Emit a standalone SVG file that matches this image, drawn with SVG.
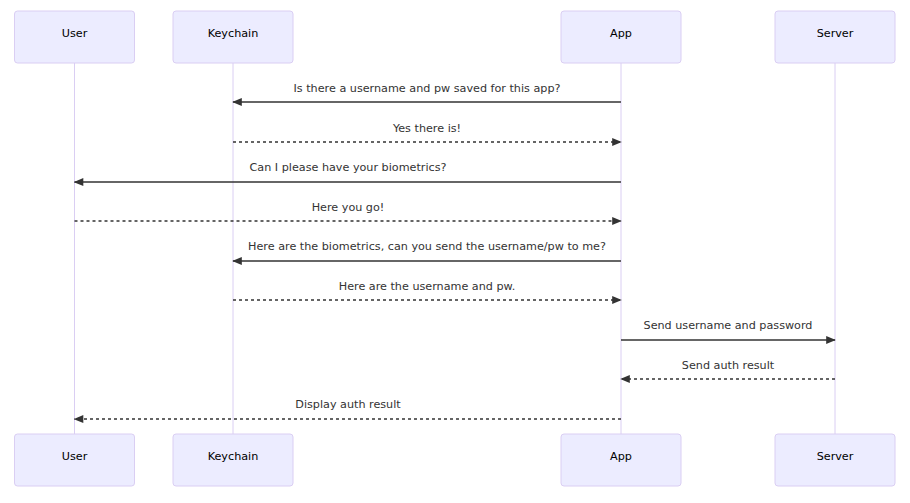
<svg xmlns="http://www.w3.org/2000/svg" width="910" height="503" viewBox="0 0 910 503">
<style>
.actor{fill:#ECECFF;stroke:#DACEF3;stroke-width:1}
.atext{font-family:"DejaVu Sans",sans-serif;font-size:11.2px;fill:#000;text-anchor:middle;dominant-baseline:central}
.life{stroke:#DACEF3;stroke-width:1}
.msg{stroke:#333;stroke-width:1.5;fill:none}
.dash{stroke-dasharray:3,3}
.mtext{font-family:"DejaVu Sans",sans-serif;font-size:11.2px;fill:#333;text-anchor:middle}
</style>
<defs>
<marker id="ah" viewBox="0 0 12 10" refX="11" refY="5" markerUnits="userSpaceOnUse" markerWidth="10" markerHeight="8" orient="auto">
<path d="M0,0 L12,5 L0,10 z" fill="#333"/>
</marker>
</defs>
<rect width="910" height="503" fill="#fff"/>
<g id="lifelines">
<line class="life" x1="74.5" y1="63" x2="74.5" y2="434"/>
<line class="life" x1="233" y1="63" x2="233" y2="434"/>
<line class="life" x1="621" y1="63" x2="621" y2="434"/>
<line class="life" x1="835" y1="63" x2="835" y2="434"/>
</g>
<g id="actor-user"><rect class="actor" x="14.5" y="11" width="120" height="52" rx="3"/><text class="atext" x="74.5" y="33.5">User</text></g>
<g id="actor-keychain"><rect class="actor" x="173" y="11" width="120" height="52" rx="3"/><text class="atext" x="233" y="33.5">Keychain</text></g>
<g id="actor-app"><rect class="actor" x="561" y="11" width="120" height="52" rx="3"/><text class="atext" x="621" y="33.5">App</text></g>
<g id="actor-server"><rect class="actor" x="775" y="11" width="120" height="52" rx="3"/><text class="atext" x="835" y="33.5">Server</text></g>
<g id="actor-user-bottom"><rect class="actor" x="14.5" y="434" width="120" height="52" rx="3"/><text class="atext" x="74.5" y="456.5">User</text></g>
<g id="actor-keychain-bottom"><rect class="actor" x="173" y="434" width="120" height="52" rx="3"/><text class="atext" x="233" y="456.5">Keychain</text></g>
<g id="actor-app-bottom"><rect class="actor" x="561" y="434" width="120" height="52" rx="3"/><text class="atext" x="621" y="456.5">App</text></g>
<g id="actor-server-bottom"><rect class="actor" x="775" y="434" width="120" height="52" rx="3"/><text class="atext" x="835" y="456.5">Server</text></g>
<g id="connectors">
<line class="msg" x1="621" y1="102" x2="233" y2="102" marker-end="url(#ah)"/>
<text class="mtext" x="427" y="92">Is there a username and pw saved for this app?</text>
<line class="msg dash" x1="233" y1="142" x2="621" y2="142" marker-end="url(#ah)"/>
<text class="mtext" x="427" y="132">Yes there is!</text>
<line class="msg" x1="621" y1="182" x2="74.5" y2="182" marker-end="url(#ah)"/>
<text class="mtext" x="348" y="171">Can I please have your biometrics?</text>
<line class="msg dash" x1="74.5" y1="221" x2="621" y2="221" marker-end="url(#ah)"/>
<text class="mtext" x="348" y="211">Here you go!</text>
<line class="msg" x1="621" y1="261" x2="233" y2="261" marker-end="url(#ah)"/>
<text class="mtext" x="427" y="250">Here are the biometrics, can you send the username/pw to me?</text>
<line class="msg dash" x1="233" y1="300" x2="621" y2="300" marker-end="url(#ah)"/>
<text class="mtext" x="427" y="290">Here are the username and pw.</text>
<line class="msg" x1="621" y1="340" x2="835" y2="340" marker-end="url(#ah)"/>
<text class="mtext" x="728" y="329">Send username and password</text>
<line class="msg dash" x1="835" y1="379" x2="621" y2="379" marker-end="url(#ah)"/>
<text class="mtext" x="728" y="369">Send auth result</text>
<line class="msg dash" x1="621" y1="419" x2="74.5" y2="419" marker-end="url(#ah)"/>
<text class="mtext" x="348" y="408">Display auth result</text>
</g>
</svg>
